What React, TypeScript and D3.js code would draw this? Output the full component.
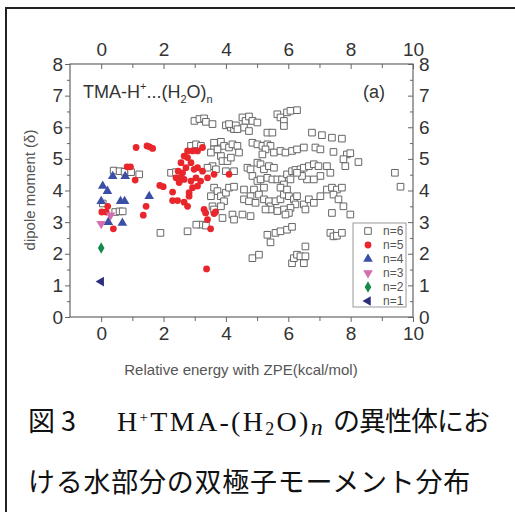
import * as d3 from 'd3';
import React, { useEffect, useRef } from 'react';

// relative energy (kcal/mol), dipole moment pairs per cluster size
const n6 = [
  [2.99, 6.2], [3.15, 6.26], [3.3, 6.28], [3.36, 6.17], [3.57, 6.1],
  [4.0, 6.06], [4.16, 5.99], [4.26, 5.94], [4.1, 6.1], [4.32, 6.06],
  [4.53, 6.31], [4.63, 6.2], [4.74, 6.34], [4.85, 6.2], [5.01, 6.15],
  [4.58, 5.99], [4.37, 5.94], [4.74, 5.88], [5.33, 5.83], [5.49, 5.83],
  [5.65, 6.41], [5.75, 6.31], [5.86, 6.2], [5.96, 6.47], [6.07, 6.52],
  [6.28, 6.54], [5.86, 6.04], [6.76, 5.83], [7.08, 5.75], [7.4, 5.67], [7.72, 5.64],
  [4.85, 5.51], [5.01, 5.46], [5.17, 5.41], [5.33, 5.46], [5.43, 5.41],
  [5.27, 5.3], [5.17, 5.14], [5.54, 5.2], [5.75, 5.25], [5.91, 5.2],
  [6.12, 5.25], [6.28, 5.3], [6.5, 5.36], [6.87, 5.36], [7.03, 5.3],
  [7.45, 5.22], [7.88, 5.14], [7.99, 5.18], [8.25, 4.9], [7.77, 4.99], [7.83, 4.77],
  [2.88, 5.41], [3.04, 5.46], [3.2, 5.41], [3.62, 5.51], [3.84, 5.54],
  [3.94, 5.41], [4.1, 5.36], [4.21, 5.46], [4.37, 5.41], [4.42, 5.2],
  [3.84, 5.09], [3.62, 5.3], [3.52, 5.2], [3.73, 5.3], [3.89, 4.93],
  [4.05, 4.93], [4.16, 5.04],
  [3.57, 4.77], [3.68, 4.67], [3.41, 4.72], [4.0, 4.61], [4.26, 4.61],
  [4.69, 4.72], [4.79, 4.67], [5.01, 4.88], [5.11, 4.83], [5.22, 4.67],
  [5.38, 4.77], [5.54, 4.72], [4.85, 4.46], [5.01, 4.3], [5.11, 4.35],
  [5.33, 4.4], [5.49, 4.35], [5.65, 4.35], [5.8, 4.35], [5.96, 4.51],
  [6.12, 4.61], [6.23, 4.65], [6.39, 4.67], [6.5, 4.72], [6.66, 4.77],
  [6.82, 4.83], [6.97, 4.77], [7.24, 4.77], [7.35, 4.56], [7.03, 4.46],
  [6.82, 4.35], [6.6, 4.35], [6.44, 4.46], [6.28, 4.56], [6.07, 4.35],
  [5.86, 4.19], [5.75, 4.09],
  [5.22, 4.09], [4.9, 4.03], [5.06, 3.87], [4.79, 3.82], [4.58, 3.72],
  [4.74, 3.66], [4.95, 3.61], [5.22, 3.72], [5.38, 3.66], [5.43, 3.5],
  [5.59, 3.66], [5.75, 3.72], [5.86, 3.87], [5.96, 4.03], [6.02, 3.82],
  [6.18, 3.72], [6.28, 3.82], [6.23, 3.56], [6.07, 3.45], [5.86, 3.4],
  [5.65, 3.35], [5.43, 3.4], [5.27, 3.4], [6.02, 3.29], [5.91, 3.24],
  [6.5, 3.56], [6.66, 3.72], [6.82, 3.61], [6.55, 3.4], [7.03, 3.82],
  [7.24, 4.03], [7.4, 4.09], [7.56, 4.03], [7.72, 4.09], [7.45, 3.87],
  [7.61, 3.72], [7.77, 3.5], [7.4, 3.29], [7.99, 3.24],
  [3.62, 4.09], [3.73, 3.98], [3.52, 3.82], [3.84, 3.82], [4.0, 3.93],
  [4.1, 4.09], [4.26, 4.12], [4.58, 4.03], [3.94, 3.66], [3.84, 3.5],
  [3.57, 3.5], [3.62, 3.4], [3.89, 3.13], [4.21, 3.24], [4.26, 3.08],
  [4.53, 3.24], [4.79, 3.19],
  [3.2, 2.92], [3.36, 2.89], [3.05, 2.92], [2.77, 2.71], [5.33, 2.6], [5.43, 2.36],
  [5.59, 2.66], [5.75, 2.71], [5.96, 2.76], [6.12, 2.85], [4.85, 1.86],
  [5.06, 1.97], [6.12, 1.7], [6.18, 1.86], [6.28, 1.97], [6.39, 1.92],
  [6.55, 1.92], [6.55, 2.23], [6.5, 1.7], [7.35, 2.66], [7.45, 2.55],
  [7.56, 2.57], [7.72, 2.66], [9.42, 4.56], [9.6, 4.12],
  [0.4, 4.63], [0.59, 4.61], [0.75, 4.59], [0.96, 4.58], [1.22, 4.51],
  [0.05, 3.59], [0.45, 3.32], [0.59, 3.34], [0.69, 3.34],
  [1.9, 2.66], [2.24, 4.56], [2.4, 4.58],
];

const n5 = [
  [0.02, 3.32], [0.16, 3.32], [0.21, 3.5], [0.39, 2.79], [0.83, 4.75], [0.94, 4.75],
  [1.09, 4.33], [1.12, 5.36], [1.47, 5.41], [1.55, 5.38], [1.65, 5.33], [1.44, 3.5],
  [1.35, 3.22], [1.88, 4.16], [1.99, 4.12], [2.29, 3.95], [2.29, 3.68], [2.45, 3.68],
  [2.66, 3.63], [2.77, 3.5], [2.82, 3.93], [2.4, 4.4], [2.54, 4.4], [2.5, 4.25],
  [2.61, 4.56], [2.77, 5.25], [2.93, 5.25], [3.09, 5.25], [3.25, 5.36], [2.77, 5.04],
  [2.88, 4.88], [2.72, 4.72], [2.98, 4.67], [2.66, 4.35], [2.88, 4.3], [3.04, 4.4],
  [2.93, 4.09], [2.82, 3.82], [3.09, 4.14], [3.19, 4.3], [3.41, 4.4], [3.25, 4.61],
  [3.62, 4.51], [3.09, 4.72], [3.3, 3.4], [3.35, 3.29], [3.62, 3.27], [3.67, 3.32],
  [3.41, 3.08], [3.51, 2.79], [3.38, 1.52], [4.1, 4.51], [2.56, 4.88], [2.66, 5.09],
  [2.47, 4.61],
];

const n4 = [
  [0.05, 4.14], [0.2, 3.98], [0.0, 3.66], [0.37, 4.45], [0.77, 4.45],
  [0.62, 3.66], [0.75, 3.66], [0.23, 3.0], [0.68, 2.97], [1.54, 3.82],
];
const n3 = [[0.0, 2.95], [0.3, 3.22]];
const n2 = [[0.0, 2.18]];
const n1 = [[0.0, 1.12]];

const xTicks = [0, 2, 4, 6, 8, 10];
const xMinor = [1, 3, 5, 7, 9];
const yTicks = [0, 1, 2, 3, 4, 5, 6, 7, 8];
const yMinor = [0.5, 1.5, 2.5, 3.5, 4.5, 5.5, 6.5, 7.5];
const legendLabels = ['n=6', 'n=5', 'n=4', 'n=3', 'n=2', 'n=1'];

const SANS = "'Liberation Sans', Arial, sans-serif";
const SERIF = "'Liberation Serif', 'Times New Roman', serif";
const CJK = "'Noto Sans CJK JP', sans-serif";

const App = () => {
  const ref = useRef(null);

  useEffect(() => {
    const svg = d3.select(ref.current);
    svg.selectAll('*').remove();

    const x = d3.scaleLinear().domain([-1, 10]).range([70, 413]);
    const y = d3.scaleLinear().domain([0, 8]).range([317, 64]);

    // outer figure frame (runs off the right/bottom edge)
    svg.append('rect')
      .attr('x', 6).attr('y', 8).attr('width', 540).attr('height', 540)
      .attr('fill', 'none').attr('stroke', '#222').attr('stroke-width', 2);

    const style = (g) => {
      g.select('.domain').remove();
      g.selectAll('line').attr('stroke', '#666').attr('stroke-width', 1);
      g.selectAll('text').attr('fill', '#333').attr('font-family', SANS).attr('font-size', 19);
    };

    svg.append('g').attr('transform', 'translate(0,317)')
      .call(d3.axisBottom(x).tickValues(xTicks).tickSize(5).tickPadding(5)).call(style);
    svg.append('g').attr('transform', 'translate(0,317)')
      .call(d3.axisBottom(x).tickValues(xMinor).tickSize(4).tickFormat(() => '')).call(style);
    svg.append('g').attr('transform', 'translate(0,64)')
      .call(d3.axisTop(x).tickValues(xTicks).tickSize(-5).tickPadding(8)).call(style);
    svg.append('g').attr('transform', 'translate(0,64)')
      .call(d3.axisTop(x).tickValues(xMinor).tickSize(-4).tickFormat(() => '')).call(style);
    svg.append('g').attr('transform', 'translate(70,0)')
      .call(d3.axisLeft(y).tickValues(yTicks).tickSize(5).tickPadding(2)).call(style);
    svg.append('g').attr('transform', 'translate(70,0)')
      .call(d3.axisLeft(y).tickValues(yMinor).tickSize(3).tickFormat(() => '')).call(style);
    svg.append('g').attr('transform', 'translate(413,0)')
      .call(d3.axisRight(y).tickValues(yTicks).tickSize(-5).tickPadding(6)).call(style);
    svg.append('g').attr('transform', 'translate(413,0)')
      .call(d3.axisRight(y).tickValues(yMinor).tickSize(-3).tickFormat(() => '')).call(style);

    svg.append('rect')
      .attr('x', 70).attr('y', 64).attr('width', 343).attr('height', 253)
      .attr('fill', 'none').attr('stroke', '#666').attr('stroke-width', 1.2);

    const series = [
      { pts: n6, type: d3.symbolSquare, size: 44, rot: 0, fill: '#fff', stroke: '#666' },
      { pts: n5, type: d3.symbolCircle, size: 36, rot: 0, fill: '#e8262b', stroke: 'none' },
      { pts: n4, type: d3.symbolTriangle, size: 40, rot: 0, fill: '#3b4fa6', stroke: 'none' },
      { pts: n3, type: d3.symbolTriangle, size: 40, rot: 180, fill: '#d46cb0', stroke: 'none' },
      { pts: n2, type: d3.symbolDiamond, size: 38, rot: 0, fill: '#168a4c', stroke: 'none' },
      { pts: n1, type: d3.symbolTriangle, size: 40, rot: -90, fill: '#2b2f7e', stroke: 'none' },
    ];

    series.forEach((s) => {
      svg.append('g').selectAll('path')
        .data(s.pts)
        .join('path')
        .attr('d', d3.symbol().type(s.type).size(s.size))
        .attr('transform', (d) => `translate(${x(d[0])},${y(d[1])}) rotate(${s.rot})`)
        .attr('fill', s.fill)
        .attr('stroke', s.stroke)
        .attr('stroke-width', 1);
    });

    // legend
    const lg = svg.append('g');
    lg.append('rect')
      .attr('x', 353).attr('y', 223).attr('width', 53).attr('height', 84)
      .attr('fill', '#fff').attr('stroke', '#999').attr('stroke-width', 1);
    legendLabels.forEach((label, i) => {
      const s = series[i];
      const cy = 231 + i * 14;
      lg.append('path')
        .attr('d', d3.symbol().type(s.type).size(s.size)())
        .attr('transform', `translate(368,${cy}) rotate(${s.rot})`)
        .attr('fill', s.fill).attr('stroke', s.stroke);
      lg.append('text')
        .attr('x', 383).attr('y', cy + 4)
        .attr('font-family', SANS).attr('font-size', 12).attr('fill', '#555')
        .text(label);
    });

    // inner title
    const t = svg.append('text')
      .attr('x', 83).attr('y', 98)
      .attr('font-family', SANS).attr('font-size', 18).attr('fill', '#333');
    t.append('tspan').text('TMA-H');
    t.append('tspan').attr('dy', -8).attr('font-size', 11).text('+');
    t.append('tspan').attr('dy', 8).text('...(H');
    t.append('tspan').attr('dy', 5).attr('font-size', 11).text('2');
    t.append('tspan').attr('dy', -5).text('O)');
    t.append('tspan').attr('dy', 5).attr('font-size', 11).text('n');

    svg.append('text')
      .attr('x', 363).attr('y', 98)
      .attr('font-family', SANS).attr('font-size', 18).attr('fill', '#333')
      .text('(a)');

    // axis titles
    svg.append('text')
      .attr('x', 241).attr('y', 375).attr('text-anchor', 'middle')
      .attr('font-family', SANS).attr('font-size', 15).attr('fill', '#555')
      .text('Relative energy with ZPE(kcal/mol)');
    svg.append('text')
      .attr('transform', 'translate(35,190) rotate(-90)').attr('text-anchor', 'middle')
      .attr('font-family', SANS).attr('font-size', 15).attr('fill', '#555')
      .text('dipole moment (\u03b4)');

    // caption
    svg.append('text')
      .attr('x', 28).attr('y', 431)
      .attr('font-family', CJK).attr('font-size', 27).attr('fill', '#111')
      .text('図 3');
    const c = svg.append('text')
      .attr('x', 117).attr('y', 431)
      .attr('font-family', SERIF).attr('font-size', 28).attr('fill', '#111')
      .attr('letter-spacing', 2.3);
    c.append('tspan').text('H');
    c.append('tspan').attr('dy', -9).attr('font-size', 15).text('+');
    c.append('tspan').attr('dy', 9).text('TMA-(H');
    c.append('tspan').attr('dy', 4).attr('font-size', 18).text('2');
    c.append('tspan').attr('dy', -4).text('O)');
    c.append('tspan').attr('dy', 4).attr('font-size', 24).attr('font-style', 'italic').text('n');
    svg.append('text')
      .attr('x', 333).attr('y', 431)
      .attr('font-family', CJK).attr('font-size', 27).attr('fill', '#111')
      .attr('letter-spacing', -1)
      .text('の異性体にお');
    svg.append('text')
      .attr('x', 28).attr('y', 492)
      .attr('font-family', CJK).attr('font-size', 27).attr('fill', '#111')
      .attr('letter-spacing', 0.75)
      .text('ける水部分の双極子モーメント分布');
  }, []);

  return (
    <svg
      ref={ref}
      width={515}
      height={512}
      style={{ position: 'absolute', left: 0, top: 0, background: '#fff' }}
    />
  );
};

export default App;
